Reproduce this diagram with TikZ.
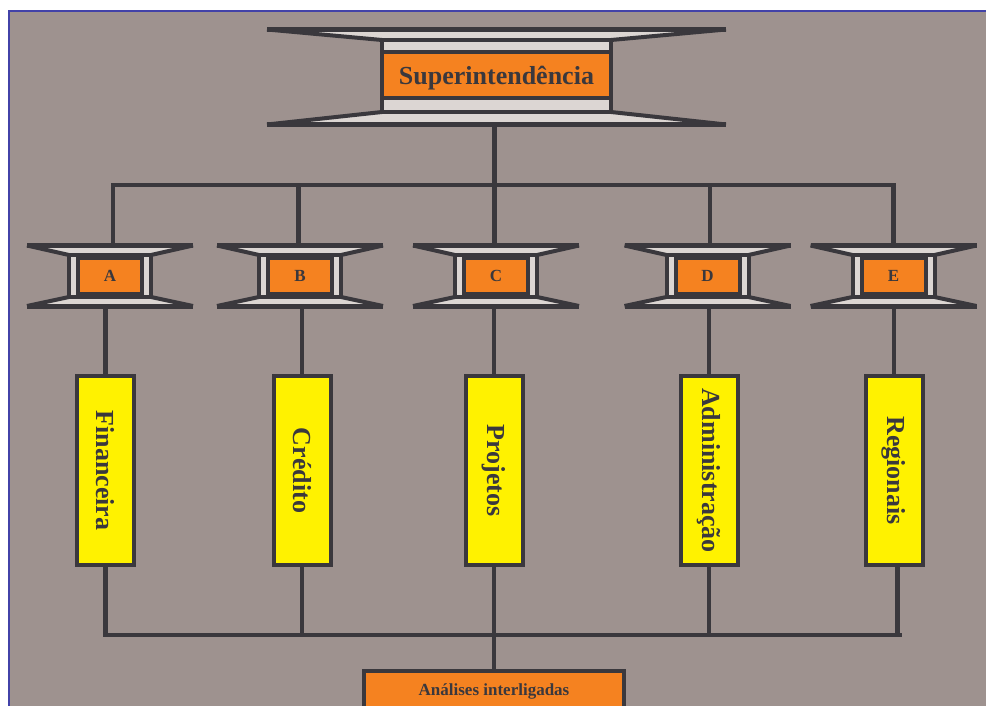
\documentclass[tikz,border=0pt]{standalone}
\usepackage{fontspec}
\setmainfont{Liberation Serif}
\usepackage{graphicx}
\definecolor{ink}{RGB}{58,56,61}
\definecolor{reel}{RGB}{220,214,211}
\definecolor{orangefill}{RGB}{245,130,32}
\definecolor{unityellow}{RGB}{255,242,0}
\definecolor{panel}{RGB}{158,146,143}
\definecolor{framecol}{RGB}{66,66,168}
\begin{document}
\begin{tikzpicture}[x=1pt,y=-1pt,
  wire/.style={draw=ink, line width=4.5pt},
  reelline/.style={draw=ink, line width=4pt},
  reelbar/.style={draw=ink, line width=5pt},
  headbox/.style={draw=ink, line width=4pt, fill=orangefill, inner sep=0pt,
    text=ink, font=\fontsize{26}{26}\selectfont\bfseries,
    text height=20pt, text depth=0pt},
  tagbox/.style={draw=ink, line width=4pt, fill=orangefill, inner sep=0pt,
    text=ink, font=\fontsize{17}{17}\selectfont\bfseries},
  unitbox/.style={draw=ink, line width=4pt, fill=unityellow, inner sep=0pt,
    minimum width=57pt, minimum height=189pt,
    text=ink, font=\fontsize{26}{26}\selectfont\bfseries}]
\useasboundingbox (0,0) rectangle (986,706);
% page and panel
\fill[white] (0,0) rectangle (986,706);
\fill[panel] (9,11) rectangle (995,715);
\draw[framecol, line width=1.7pt] (9,715) -- (9,11) -- (995,11);

% ---- connectors (drawn first, shapes cover their ends) ----
\coordinate (supbot) at (494.5,124.5);
\coordinate (supdrop) at (494.5,185);
\draw[wire] (supbot) -- (supdrop);

\foreach \cx/\dx/\nm in {110/113/A, 300/298.5/B, 496/494.5/C, 707.5/710/D, 893.5/893.5/E} {
  \coordinate (drop\nm) at (\dx,185);
  \coordinate (rt\nm) at (\dx,245.5);
  \coordinate (rb\nm) at (\cx,306);
  \draw[wire] (drop\nm) -- (rt\nm);
}
\draw[wire, line cap=rect] (dropA) -- (dropE);

% ---- top reel ----
\fill[reel] (267,29.5) -- (726,29.5) -- (611,40) -- (382,40) -- cycle;
\fill[reel] (267,124.5) -- (726,124.5) -- (611,112) -- (382,112) -- cycle;
\draw[reelline] (267,29.5) -- (382,40) (726,29.5) -- (611,40);
\draw[reelline] (267,124.5) -- (382,112) (726,124.5) -- (611,112);
\draw[reelbar] (267,29.5) -- (726,29.5);
\draw[reelbar] (267,124.5) -- (726,124.5);
\draw[reelline, fill=reel] (382,40) rectangle (611,112);
\node[headbox, minimum width=229pt, minimum height=46pt] (sup) at (496.5,75) {Superintendência};

% ---- small reels ----
\foreach \cx/\nm in {110/A, 300/B, 496/C, 707.5/D, 893.5/E} {
  \fill[reel] (\cx-83,245.5) -- (\cx+83,245.5) -- (\cx+41,255) -- (\cx-41,255) -- cycle;
  \fill[reel] (\cx-83,306) -- (\cx+83,306) -- (\cx+41,297) -- (\cx-41,297) -- cycle;
  \draw[reelline] (\cx-83,245.5) -- (\cx-41,255) (\cx+83,245.5) -- (\cx+41,255);
  \draw[reelline] (\cx-83,306) -- (\cx-41,297) (\cx+83,306) -- (\cx+41,297);
  \draw[reelbar] (\cx-83,245.5) -- (\cx+83,245.5);
  \draw[reelbar] (\cx-83,306) -- (\cx+83,306);
  \draw[reelline, fill=reel] (\cx-41,255) rectangle (\cx+41,297);
  \node[tagbox, minimum width=64pt, minimum height=35.5pt] (\nm) at (\cx,275.75) {\nm};
}

% ---- units ----
\node[unitbox] (fin) at (105.5,470.5) {\rotatebox{-90}{Financeira}};
\node[unitbox] (cre) at (302,470.5) {\rotatebox{-90}{Crédito}};
\node[unitbox] (pro) at (494,470.5) {\rotatebox{-90}{Projetos}};
\node[unitbox] (adm) at (709,470.5) {\rotatebox{-90}{Administração}};
\node[unitbox] (reg) at (894,470.5) {\rotatebox{-90}{Regionais}};

% reels to units
\draw[wire] (fin.north) -- (fin.north |- rbA);
\draw[wire] (cre.north) -- (cre.north |- rbB);
\draw[wire] (pro.north) -- (pro.north |- rbC);
\draw[wire] (adm.north) -- (adm.north |- rbD);
\draw[wire] (reg.north) -- (reg.north |- rbE);

% lower bus
\coordinate (lowW) at (103,635);
\coordinate (lowE) at (902,635);
\draw[wire] (lowW) -- (lowE);
\draw[wire] (fin.south) -- (fin.south |- lowW);
\draw[wire] (cre.south) -- (cre.south |- lowW);
\draw[wire] (pro.south) -- (pro.south |- lowW);
\draw[wire] (adm.south) -- (adm.south |- lowW);
\draw[wire] ([xshift=3.5pt]reg.south) -- ([xshift=3.5pt]reg.south |- lowW);

% joint analyses
\node[tagbox, minimum width=260pt, minimum height=38pt, text height=12pt, text depth=0pt] (ana) at (494,689.5) {Análises interligadas};
\draw[wire] (ana.north) -- (ana.north |- lowW);
\end{tikzpicture}
\end{document}
